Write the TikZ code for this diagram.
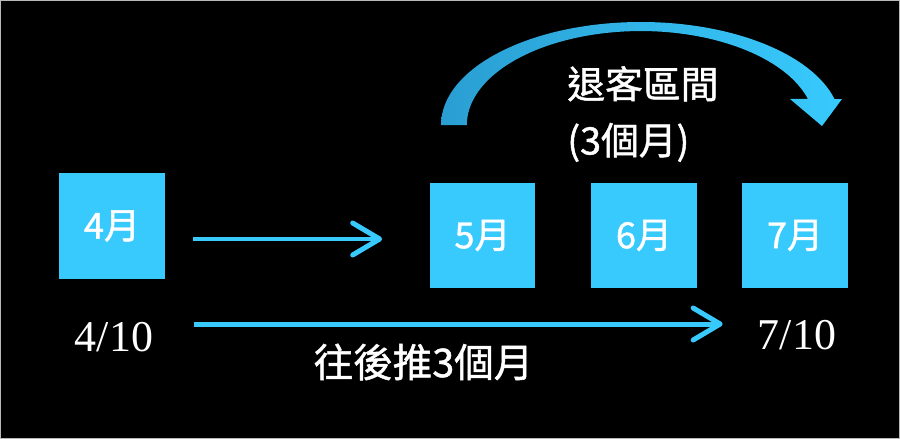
\documentclass[tikz,border=0pt]{standalone}
\usepackage{fontspec}
\setmainfont{Noto Sans CJK TC}
\newfontfamily\labelfont{Noto Sans CJK TC}[FakeBold=1.2]
\newfontfamily\datefont{Liberation Serif}
\usetikzlibrary{arrows.meta,positioning}
\definecolor{skyblue}{HTML}{38CAFD}
\definecolor{deepsky}{HTML}{2A9ED2}
\tikzset
{
    monthbox/.style = {rectangle, fill=skyblue, text=white, minimum size=2.12cm, inner sep=0pt, font=\labelfont\fontsize{20.5pt}{24pt}\selectfont},
    datenode/.style = {text=white, inner sep=0pt, font=\datefont\fontsize{25pt}{30pt}\selectfont},
    cjklabel/.style = {text=white, align=left, inner sep=0pt, font=\labelfont\fontsize{21.5pt}{32pt}\selectfont},
    flow/.style     = {draw=skyblue, line width=0.1cm, -{Straight Barb[length=5.4mm,width=6.4mm,round]}}
}

\begin{document}
\begin{tikzpicture}[x=0.02cm, y=-0.02cm]
\useasboundingbox (0,0) rectangle (900,439);
\fill [black] (0,0) rectangle (900,439);
\draw [gray!55, line width=0.02cm] (0.5,0.5) rectangle (899.5,438.5);
% months
\node [monthbox] at (112,226) (m4) {4月};
\node [monthbox] at (482.5,235.5) (m5) {5月};
\node [monthbox] at (644,235.5) (m6) {6月};
\node [monthbox] at (795,235.5) (m7) {7月};
% dates
\node [datenode] at (114,337) (d410) {4/10};
\node [datenode] at (797,335) (d710) {7/10};
\node [cjklabel, font=\labelfont\fontsize{22.5pt}{27pt}\selectfont] at (423.5,362) (push) {往後推3個月};
\node [cjklabel, anchor=west] at (567,114) (range) {退客區間\\(3個月)};
% arrows
\draw [flow, shorten <=0.56cm, shorten >=0.94cm] ([yshift=-0.07cm]m5.west -| m4.east) -- ([yshift=-0.07cm]m5.west);
\draw [flow, shorten <=0.58cm, shorten >=0.38cm] ([yshift=0.26cm]d410.center -| m4.east) -- ([yshift=0.26cm]d410.center -| m7.west);
\path [left color=deepsky, right color=skyblue] (441,125) arc[start angle=180, end angle=345.4, x radius=200, y radius=103]
    -- (842,99) -- (822,126) -- (790,99) -- (808,99) arc[start angle=343.9, end angle=180, x radius=174, y radius=94] -- cycle;
\end{tikzpicture}
\end{document}
